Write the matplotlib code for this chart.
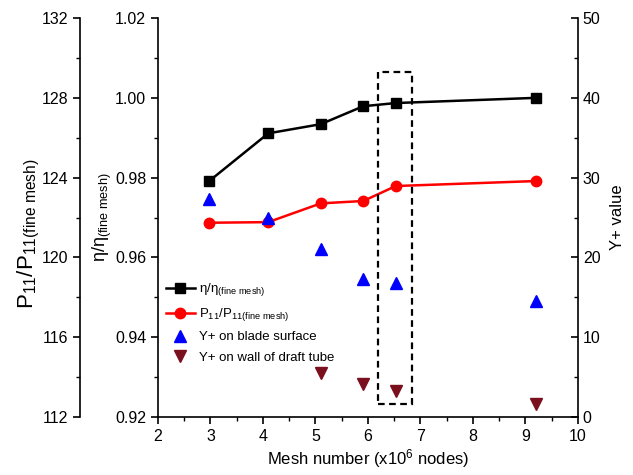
import matplotlib.pyplot as plt
from matplotlib.ticker import MultipleLocator
from matplotlib.patches import Rectangle

plt.rcParams['font.family'] = ['Liberation Sans', 'DejaVu Sans']
plt.rcParams['mathtext.fontset'] = 'custom'
plt.rcParams['mathtext.rm'] = 'Liberation Sans'
plt.rcParams['mathtext.it'] = 'Liberation Sans:italic'

# Data
mesh = [2.98, 4.10, 5.10, 5.91, 6.53, 9.20]
eta = [0.9792, 0.9911, 0.9934, 0.9979, 0.9987, 1.0000]
p11 = [121.74, 121.77, 122.71, 122.83, 123.58, 123.83]
yplus_blade = [27.3, 24.9, 21.1, 17.25, 16.8, 14.6]
mesh_wall = [5.10, 5.91, 6.53, 9.20]
yplus_wall = [5.5, 4.1, 3.25, 1.6]

eta_lbl = r'η/η$_{\rm (fine\ mesh)}$'
p11_lbl = r'P$_{\rm 11}$/P$_{\rm 11(fine\ mesh)}$'

fig = plt.figure(figsize=(6.33, 4.75), dpi=100)
ax = fig.add_axes([0.2496, 0.122, 0.6635, 0.840])
ax_p = ax.twinx()
ax_y = ax.twinx()

ax_p.spines['right'].set_visible(False)
ax_p.spines['left'].set_visible(True)
ax_p.spines['left'].set_position(('outward', 56))
ax_p.yaxis.set_label_position('left')
ax_p.yaxis.set_ticks_position('left')

for a in (ax, ax_p, ax_y):
    a.spines['top'].set_visible(False)
    for s in a.spines.values():
        s.set_linewidth(1.2)
ax.spines['right'].set_visible(False)
ax_p.spines['bottom'].set_visible(False)
ax_y.spines['left'].set_visible(False)
ax_y.spines['bottom'].set_visible(False)

l1, = ax.plot(mesh, eta, '-s', color='black', lw=1.8, ms=7, label=eta_lbl)
l2, = ax_p.plot(mesh, p11, '-o', color='#ff0000', lw=1.8, ms=7.5, label=p11_lbl)
l3, = ax_y.plot(mesh, yplus_blade, '^', color='#0000ff', ms=8, ls='none',
                label='Y+ on blade surface')
l4, = ax_y.plot(mesh_wall, yplus_wall, 'v', color='#7a0f1e', ms=8, ls='none',
                label='Y+ on wall of draft tube')

# highlight box around the chosen mesh
ax_y.add_patch(Rectangle((6.2, 1.6), 0.64, 41.6, fill=False, ls=(0, (3, 2)),
                         lw=1.6, ec='black', zorder=5))

ax.set_xlim(2, 10)
ax.set_ylim(0.92, 1.02)
ax_p.set_ylim(112, 132)
ax_y.set_ylim(0, 50)

ax.xaxis.set_major_locator(MultipleLocator(1))
ax.xaxis.set_minor_locator(MultipleLocator(0.5))
ax.yaxis.set_major_locator(MultipleLocator(0.02))
ax.yaxis.set_minor_locator(MultipleLocator(0.01))
ax.yaxis.set_major_formatter(plt.FormatStrFormatter('%.2f'))
ax_p.yaxis.set_major_locator(MultipleLocator(4))
ax_p.yaxis.set_minor_locator(MultipleLocator(2))
ax_y.yaxis.set_major_locator(MultipleLocator(10))
ax_y.yaxis.set_minor_locator(MultipleLocator(5))

ax.tick_params(axis='both', which='major', direction='out', length=5, width=1.2, labelsize=11.5)
ax.tick_params(axis='both', which='minor', direction='out', length=3, width=1.0)
ax_p.tick_params(which='major', direction='out', length=5, width=1.2, labelsize=11.5)
ax_p.tick_params(which='minor', direction='out', length=3, width=1.0)
ax_y.tick_params(which='major', direction='in', length=5, width=1.2, labelsize=11.5)
ax_y.tick_params(which='minor', direction='in', length=3, width=1.0)

ax.set_xlabel(r'Mesh number (x10$^6$ nodes)', fontsize=12, labelpad=2)
ax.set_ylabel(eta_lbl, fontsize=13, labelpad=1)
ax_p.set_ylabel(p11_lbl, fontsize=16, labelpad=0)
ax_p.yaxis.set_label_coords(-0.275, 0.46)
ax_y.set_ylabel('Y+ value', fontsize=12, labelpad=7)

leg = ax_y.legend(handles=[l1, l2, l3, l4], loc='upper left',
                  bbox_to_anchor=(0.0, 0.36), frameon=False, fontsize=9.5,
                  handlelength=2.2, handletextpad=0.3, labelspacing=0.6,
                  borderaxespad=0.2)

fig.savefig('out.png', dpi=100)
